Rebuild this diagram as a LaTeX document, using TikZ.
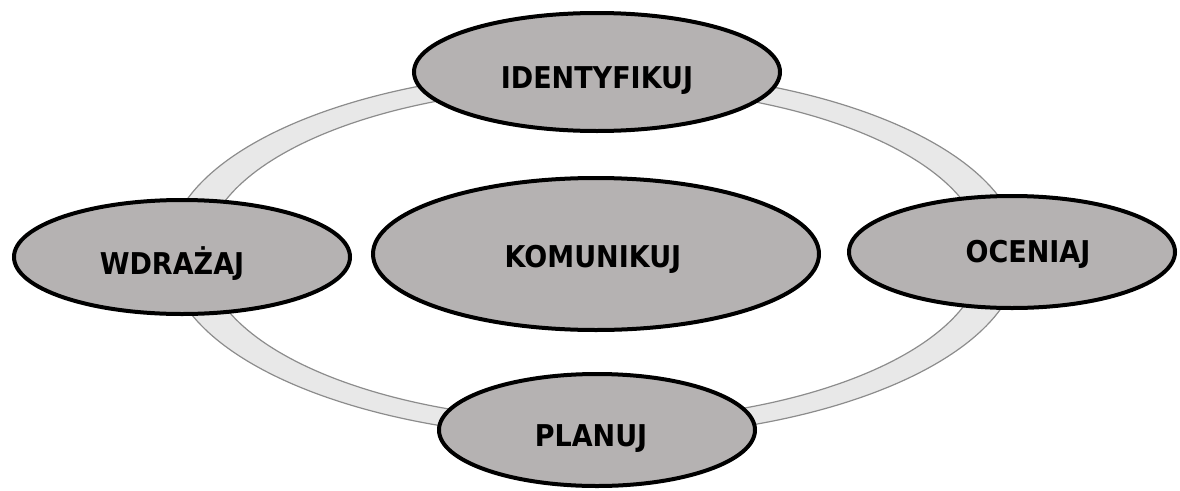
\documentclass[tikz,border=0pt]{standalone}
\usepackage{fontspec}
\newfontfamily\lblfont{DejaVu Sans}[FakeStretch=0.9]
\usetikzlibrary{shapes.geometric}
\definecolor{blobfill}{RGB}{181,178,178}
\definecolor{ringfill}{RGB}{232,232,232}
\definecolor{ringline}{RGB}{140,140,140}
\tikzset{
  blob/.style={ellipse, draw=black, line width=4pt, fill=blobfill, inner sep=0pt},
  lbl/.style={font=\lblfont\bfseries\fontsize{30}{36}\selectfont, text=black, anchor=center,
              inner sep=0pt, text height=22pt, text depth=0pt},
}
\begin{document}
\begin{tikzpicture}[x=1pt,y=-1pt]
\useasboundingbox (0,0) rectangle (1180,490);
% ring
\coordinate (rc) at (594,254);
\fill[ringfill, even odd rule] (rc) ellipse [x radius=426pt, y radius=184pt]
                               (rc) ellipse [x radius=389pt, y radius=167pt];
\draw[ringline, line width=1.2pt] (rc) ellipse [x radius=426pt, y radius=184pt];
\draw[ringline, line width=1.2pt] (rc) ellipse [x radius=389pt, y radius=167pt];
% nodes
\node[blob, minimum width=366pt, minimum height=118pt,
      label={[lbl, xshift=0pt, yshift=-5pt]center:IDENTYFIKUJ}] (ident) at (597,72) {};
\node[blob, minimum width=336pt, minimum height=114pt,
      label={[lbl, xshift=-10pt, yshift=-6pt]center:WDRAŻAJ}] (wdraz) at (182,257) {};
\node[blob, minimum width=446pt, minimum height=152pt,
      label={[lbl, xshift=-3pt, yshift=-2pt]center:KOMUNIKUJ}] (komun) at (596,254) {};
\node[blob, minimum width=326pt, minimum height=112pt,
      label={[lbl, xshift=16pt, yshift=1pt]center:OCENIAJ}] (ocen) at (1012,252) {};
\node[blob, minimum width=316pt, minimum height=112pt,
      label={[lbl, xshift=-6pt, yshift=-5pt]center:PLANUJ}] (plan) at (597,430) {};
\end{tikzpicture}
\end{document}
